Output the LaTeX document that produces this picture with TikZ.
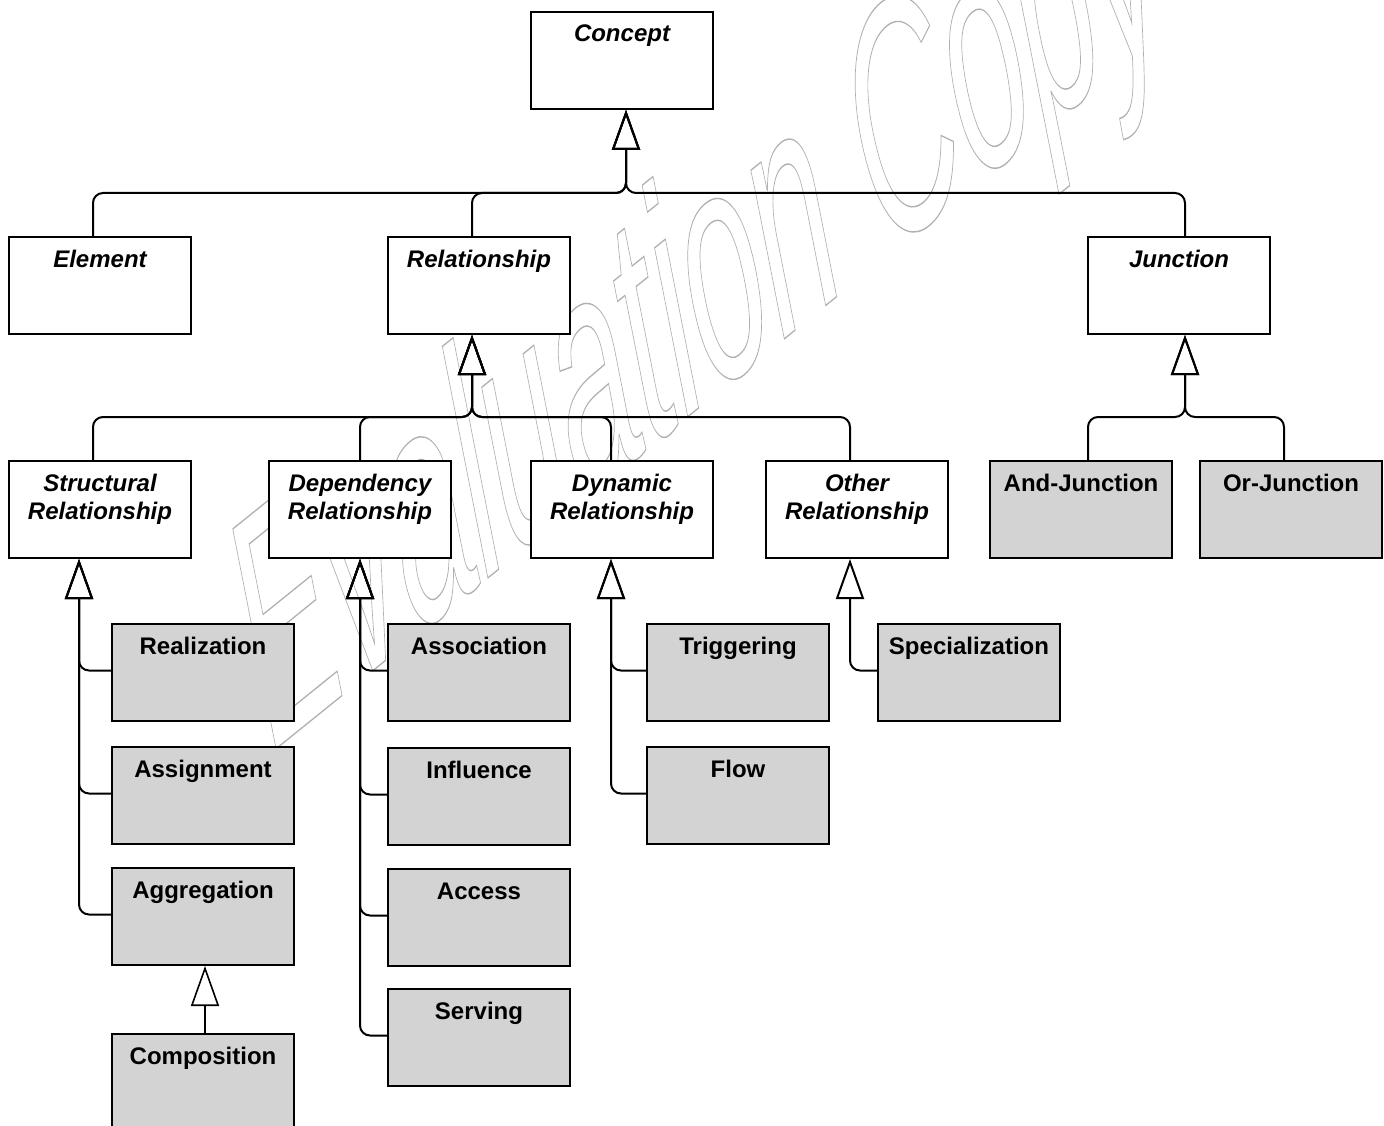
\documentclass[tikz,border=0pt]{standalone}
\usepackage{fontspec}
\setmainfont{Liberation Sans}
\usetikzlibrary{arrows.meta}

\definecolor{boxgray}{RGB}{211,211,211}
\definecolor{wmgray}{RGB}{176,176,176}

% fixed-size box content: title lines at the top, centred
\newcommand\boxlabel[1]{\vbox to 97pt{\hsize=182pt\centering\baselineskip=28pt
  \leavevmode\rule{0pt}{30pt}#1\par\vfil}}
% outlined (stroked, not filled) text
\newcommand\outlinetext[1]{\special{pdf:literal direct 1 Tr 0.45 w}#1\special{pdf:literal direct 0 Tr}}

\tikzset{
  abstractbox/.style={draw=black, line width=2pt, fill=white, inner sep=0pt,
    anchor=north west, font=\fontsize{24}{28}\selectfont\bfseries\itshape},
  concretebox/.style={abstractbox, fill=boxgray,
    font=\fontsize{24}{28}\selectfont\bfseries},
  gen/.style={draw=black, line width=2pt, rounded corners=10pt,
    -{Triangle[open, length=40pt, width=28pt]}},
}

\begin{document}
\begin{tikzpicture}[x=1pt, y=-1pt]
\useasboundingbox (0,0) rectangle (1384,1126);

% watermark behind the diagram
\node[cm={1.24,1.00,-0.87,3.00,(272,752)}, transform shape, anchor=base west,
  inner sep=0pt, text=wmgray, font=\fontsize{100}{120}\selectfont\itshape]
  (wm) at (0,0) {\outlinetext{Evaluation Copy}};

% top level
\node[abstractbox] (concept) at (530,11)  {\boxlabel{Concept}};
\node[abstractbox] (el)      at (8,236)   {\boxlabel{Element}};
\node[abstractbox] (rel)     at (387,236) {\boxlabel{Relationship}};
\node[abstractbox] (jn)      at (1087,236){\boxlabel{Junction}};

% relationship categories and junction kinds
\node[abstractbox] (sr)   at (8,460)   {\boxlabel{Structural\\Relationship}};
\node[abstractbox] (dr)   at (268,460) {\boxlabel{Dependency\\Relationship}};
\node[abstractbox] (dyn)  at (530,460) {\boxlabel{Dynamic\\Relationship}};
\node[abstractbox] (oth)  at (765,460) {\boxlabel{Other\\Relationship}};
\node[concretebox] (andj) at (989,460) {\boxlabel{And-Junction}};
\node[concretebox] (orj)  at (1199,460){\boxlabel{Or-Junction}};

% concrete relationships
\node[concretebox] (real)  at (111,623)  {\boxlabel{Realization}};
\node[concretebox] (asg)   at (111,746)  {\boxlabel{Assignment}};
\node[concretebox] (agg)   at (111,867)  {\boxlabel{Aggregation}};
\node[concretebox] (comp)  at (111,1033) {\boxlabel{Composition}};
\node[concretebox] (assoc) at (387,623)  {\boxlabel{Association}};
\node[concretebox] (infl)  at (387,747)  {\boxlabel{Influence}};
\node[concretebox] (acc)   at (387,868)  {\boxlabel{Access}};
\node[concretebox] (serv)  at (387,988)  {\boxlabel{Serving}};
\node[concretebox] (trig)  at (646,623)  {\boxlabel{Triggering}};
\node[concretebox] (flow)  at (646,746)  {\boxlabel{Flow}};
\node[concretebox] (spec)  at (877,623)  {\boxlabel{Specialization}};

% generalization trees with a shared horizontal bar
\draw[gen] ([xshift=-7pt]el.north)  -- ++(0,-43) -| ([xshift=4pt]concept.south);
\draw[gen] ([xshift=-7pt]rel.north) -- ++(0,-43) -| ([xshift=4pt]concept.south);
\draw[gen] ([xshift=6pt]jn.north)   -- ++(0,-43) -| ([xshift=4pt]concept.south);

\draw[gen] ([xshift=-7pt]sr.north)   -- ++(0,-43) -| ([xshift=-7pt]rel.south);
\draw[gen] (dr.north)                -- ++(0,-43) -| ([xshift=-7pt]rel.south);
\draw[gen] ([xshift=-11pt]dyn.north) -- ++(0,-43) -| ([xshift=-7pt]rel.south);
\draw[gen] ([xshift=-7pt]oth.north)  -- ++(0,-43) -| ([xshift=-7pt]rel.south);

\draw[gen] ([xshift=7pt]andj.north) -- ++(0,-43) -| ([xshift=6pt]jn.south);
\draw[gen] ([xshift=-7pt]orj.north) -- ++(0,-43) -| ([xshift=6pt]jn.south);

% generalization trees with a vertical side stem
\draw[gen] ([yshift=2pt]real.west) -| ([xshift=-21pt]sr.south);
\draw[gen] ([yshift=2pt]asg.west)  -| ([xshift=-21pt]sr.south);
\draw[gen] ([yshift=2pt]agg.west)  -| ([xshift=-21pt]sr.south);

\draw[gen] ([yshift=2pt]assoc.west) -| (dr.south);
\draw[gen] ([yshift=2pt]infl.west)  -| (dr.south);
\draw[gen] ([yshift=2pt]acc.west)   -| (dr.south);
\draw[gen] ([yshift=2pt]serv.west)  -| (dr.south);

\draw[gen] ([yshift=2pt]trig.west) -| ([xshift=-11pt]dyn.south);
\draw[gen] ([yshift=2pt]flow.west) -| ([xshift=-11pt]dyn.south);

\draw[gen] ([yshift=2pt]spec.west) -| ([xshift=-7pt]oth.south);

\draw[gen, line width=1.6pt] ([xshift=2pt]comp.north) -- ([xshift=2pt]agg.south);
\end{tikzpicture}
\end{document}
